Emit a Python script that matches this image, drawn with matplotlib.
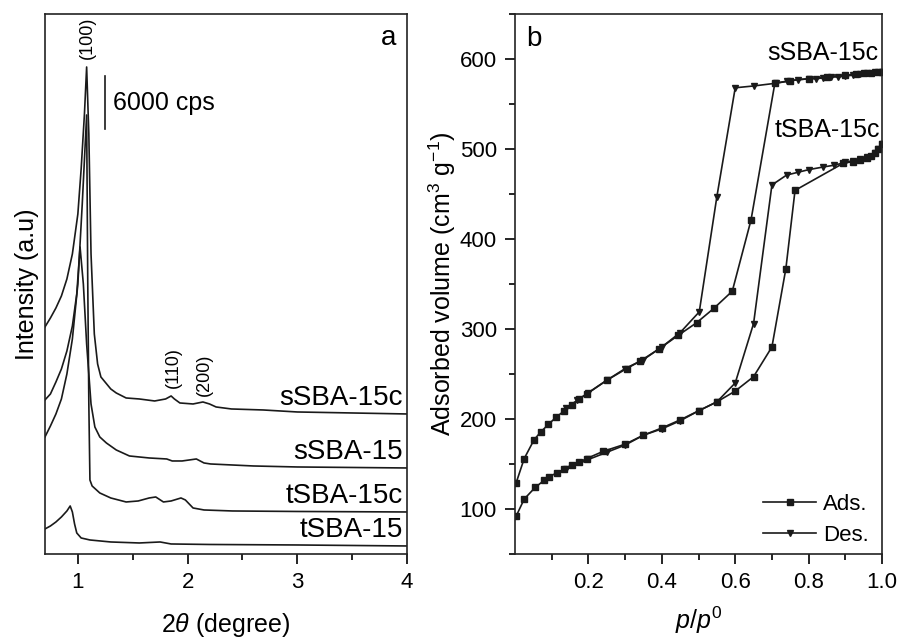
import numpy as np
import matplotlib
matplotlib.use("Agg")
import matplotlib.pyplot as plt

plt.rcParams["font.family"] = ["Liberation Sans", "DejaVu Sans"]
plt.rcParams["mathtext.fontset"] = "custom"
plt.rcParams["mathtext.rm"] = "Liberation Sans"
plt.rcParams["mathtext.it"] = "Liberation Sans:italic"

# ---- (a) XRD patterns, intensity in a.u. (53 a.u. == 6000 cps) ----
ssba15c_2theta = [0.70, 0.75, 0.80, 0.85, 0.90, 0.95, 1.00, 1.03, 1.06, 1.08, 1.10, 1.12, 1.15,
                  1.18, 1.21, 1.30, 1.35, 1.44, 1.56, 1.70, 1.80, 1.85, 1.88, 1.93, 2.05, 2.14,
                  2.20, 2.26, 2.40, 2.69, 3.00, 3.50, 4.00]
ssba15c_int = [227, 236, 246, 258, 275, 300, 340, 385, 440, 487, 420, 300, 220,
               190, 177, 165, 161, 156, 155, 153, 155, 158, 155, 151, 150, 152,
               150, 147, 145, 144, 142, 141, 140]

ssba15_2theta = [0.70, 0.75, 0.80, 0.85, 0.90, 0.95, 0.99, 1.02, 1.05, 1.08, 1.12, 1.155, 1.20,
                 1.26, 1.35, 1.47, 1.65, 1.81, 1.86, 1.95, 2.08, 2.15, 2.21, 2.60, 3.00, 4.00]
ssba15_int = [154, 160, 172, 185, 203, 228, 260, 307, 270, 210, 150, 127, 117,
              111, 104, 98, 96, 95, 93, 93, 95, 91, 90, 88, 87, 86]

tsba15c_2theta = [0.70, 0.75, 0.80, 0.85, 0.90, 0.95, 1.00, 1.04, 1.08, 1.09, 1.10, 1.11, 1.13,
                  1.20, 1.30, 1.44, 1.55, 1.65, 1.71, 1.78, 1.85, 1.94, 1.98, 2.05, 2.15, 2.41,
                  3.00, 4.00]
tsba15c_int = [117, 128, 140, 155, 180, 215, 270, 350, 439, 274, 150, 74, 68,
               61, 56, 52, 53, 56, 57, 52, 53, 56, 54, 46, 44, 43,
               42.5, 42]

tsba15_2theta = [0.70, 0.75, 0.80, 0.85, 0.90, 0.93, 0.95, 0.97, 0.99, 1.03, 1.11, 1.30, 1.56,
                 1.75, 1.85, 2.20, 3.00, 4.00]
tsba15_int = [25, 28, 32, 37, 43, 48, 42, 30, 21, 16, 14, 12, 11,
              12, 10, 9.5, 9, 8]

xrd_names = ["sSBA-15c", "sSBA-15", "tSBA-15c", "tSBA-15"]

# ---- (b) N2 isotherms ----
s_ads_p = [0.003, 0.025, 0.052, 0.071, 0.091, 0.112, 0.134, 0.154, 0.175, 0.195, 0.25, 0.304,
           0.34, 0.393, 0.445, 0.495, 0.542, 0.592, 0.643, 0.708, 0.75, 0.80, 0.85, 0.90,
           0.93, 0.95, 0.97, 0.99, 1.0]
s_ads_v = [129, 156, 177, 186, 194, 202, 209, 215, 222, 228, 243, 256,
           264, 278, 293, 307, 323, 342, 421, 573, 576, 578, 580, 582,
           583, 584, 584, 585, 586]

s_des_p = [1.0, 0.98, 0.96, 0.94, 0.92, 0.90, 0.88, 0.86, 0.84, 0.82, 0.80, 0.77, 0.74,
           0.71, 0.65, 0.60, 0.55, 0.502, 0.45, 0.40, 0.35, 0.30, 0.25, 0.20, 0.17, 0.14]
s_des_v = [586, 585, 584, 583, 582, 581, 580, 580, 579, 578, 578, 577, 575,
           573, 570, 568, 447, 319, 296, 280, 266, 256, 243, 229, 221, 212]

t_ads_p = [0.003, 0.025, 0.055, 0.08, 0.093, 0.114, 0.134, 0.154, 0.175, 0.195, 0.24, 0.30,
           0.35, 0.40, 0.45, 0.50, 0.55, 0.60, 0.65, 0.70, 0.738, 0.763, 0.894, 0.92, 0.94,
           0.96, 0.97, 0.98, 0.99, 1.0]
t_ads_v = [92, 111, 124, 132, 136, 140, 144, 149, 152, 156, 164, 172,
           182, 190, 199, 209, 219, 231, 247, 280, 367, 454, 484, 486, 488,
           490, 492, 495, 500, 506]

t_des_p = [1.0, 0.99, 0.98, 0.96, 0.94, 0.92, 0.90, 0.87, 0.84, 0.80, 0.77, 0.74, 0.70,
           0.65, 0.60, 0.55, 0.50, 0.45, 0.40, 0.35, 0.30, 0.25, 0.20, 0.14]
t_des_v = [506, 500, 496, 491, 489, 487, 485, 482, 480, 477, 474, 471, 460,
           306, 240, 219, 209, 198, 189, 182, 171, 163, 155, 144]

line_color = "#1a1a1a"

fig = plt.figure(figsize=(8.99, 6.38), dpi=100)
ax_a = fig.add_axes([0.050, 0.1317, 0.4027, 0.8464])
ax_b = fig.add_axes([0.5729, 0.1317, 0.4082, 0.8464])

# Panel a
xrd = [(ssba15c_2theta, ssba15c_int), (ssba15_2theta, ssba15_int),
       (tsba15c_2theta, tsba15c_int), (tsba15_2theta, tsba15_int)]
for (tt, inten), name in zip(xrd, xrd_names):
    ax_a.plot(tt, inten, color=line_color, lw=1.2)
    ax_a.text(3.96, inten[-1] + 16, name, ha="right", va="center", fontsize=20)

ax_a.set_xlim(0.7, 4.0)
ax_a.set_ylim(0, 540)
ax_a.set_yticks([])
ax_a.set_xticks([1, 2, 3, 4])
ax_a.set_xticks([1.5, 2.5, 3.5], minor=True)
ax_a.tick_params(axis="x", which="major", direction="out", length=7, width=1.2,
                 labelsize=16, pad=6)
ax_a.tick_params(axis="x", which="minor", direction="out", length=4, width=1.2)
ax_a.set_xlabel(r"$2\theta$ (degree)", fontsize=18, labelpad=13)
ax_a.set_ylabel("Intensity (a.u)", fontsize=18, labelpad=4)

# scale bar 6000 cps
ax_a.plot([1.245, 1.245], [425, 478], color=line_color, lw=1.2)
ax_a.text(1.32, 451, "6000 cps", ha="left", va="center", fontsize=18)

ax_a.text(1.09, 516, "(100)", rotation=90, ha="center", va="center", fontsize=13)
ax_a.text(1.87, 186, "(110)", rotation=90, ha="center", va="center", fontsize=13)
ax_a.text(2.15, 179, "(200)", rotation=90, ha="center", va="center", fontsize=13)
ax_a.text(0.97, 0.955, "a", transform=ax_a.transAxes, ha="right", va="center", fontsize=20)

# Panel b
ax_b.plot(s_ads_p, s_ads_v, color=line_color, lw=1.2, marker="s", ms=4.5, label="Ads.")
ax_b.plot(s_des_p, s_des_v, color=line_color, lw=1.2, marker="v", ms=5, label="Des.")
ax_b.plot(t_ads_p, t_ads_v, color=line_color, lw=1.2, marker="s", ms=4.5)
ax_b.plot(t_des_p, t_des_v, color=line_color, lw=1.2, marker="v", ms=5)

ax_b.text(0.99, 607, "sSBA-15c", ha="right", va="center", fontsize=18)
ax_b.text(0.995, 521, "tSBA-15c", ha="right", va="center", fontsize=18)
ax_b.text(0.03, 0.953, "b", transform=ax_b.transAxes, ha="left", va="center", fontsize=20)

ax_b.set_xlim(0.0, 1.0)
ax_b.set_ylim(50, 650)
ax_b.set_xticks([0.2, 0.4, 0.6, 0.8, 1.0])
ax_b.set_xticklabels(["0.2", "0.4", "0.6", "0.8", "1.0"])
ax_b.set_xticks([0.1, 0.3, 0.5, 0.7, 0.9], minor=True)
ax_b.set_yticks([100, 200, 300, 400, 500, 600])
ax_b.set_yticks([50, 150, 250, 350, 450, 550, 650], minor=True)
ax_b.tick_params(which="major", direction="out", length=7, width=1.2, labelsize=16, pad=6)
ax_b.tick_params(which="minor", direction="out", length=4, width=1.2)
ax_b.set_xlabel(r"$p/p^0$", fontsize=18, labelpad=8)
ax_b.set_ylabel(r"Adsorbed volume (cm$^3$ g$^{-1}$)", fontsize=18, labelpad=1)

ax_b.legend(loc="lower right", bbox_to_anchor=(1.0, -0.01), frameon=False, fontsize=16,
            handlelength=2.4, handletextpad=0.3, labelspacing=0.45, borderaxespad=0.2)

for ax in (ax_a, ax_b):
    for sp in ax.spines.values():
        sp.set_linewidth(1.2)
        sp.set_color("#222222")

fig.savefig("out.png", dpi=100)
